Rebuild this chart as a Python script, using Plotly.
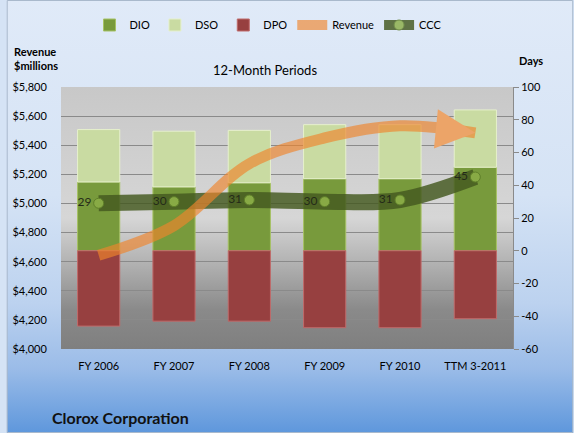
import base64
import plotly.graph_objects as go

# ---- data ----
categories = ["FY 2006", "FY 2007", "FY 2008", "FY 2009", "FY 2010", "TTM 3-2011"]
dio = [42, 39, 41.5, 44, 44, 51]
dso = [32, 34, 32, 33, 33, 35]
dpo = [-46, -43, -43, -47, -47, -41.5]
ccc = [29, 30, 31, 30, 31, 45]
ccc_labels = ["29", "30", "31", "30", "31", "45"]
revenue = [4644, 4847, 5273, 5450, 5534, 5485]
day_ticks = [-60, -40, -20, 0, 20, 40, 60, 80, 100]
day_tick_labels = ["-60", "-40", "-20", "0", "20", "40", "60", "80", "100"]

# ---- geometry ----
W, H = 574, 433
L, R, T, B = 55, 61, 87, 84
PW, PH = W - L - R, H - T - B


def px(x):
    return (x - L) / PW


def py(y):
    return 1 - (y - T) / PH


def grad_uri(stops):
    st = "".join(
        f'<stop offset="{o}" stop-color="{c}"/>' for o, c in stops
    )
    svg = (
        '<svg xmlns="http://www.w3.org/2000/svg" width="100" height="100" '
        'preserveAspectRatio="none" viewBox="0 0 100 100">'
        f'<defs><linearGradient id="g" x1="0" y1="0" x2="0" y2="1">{st}</linearGradient></defs>'
        '<rect x="0" y="0" width="100" height="100" fill="url(#g)"/></svg>'
    )
    return "data:image/svg+xml;base64," + base64.b64encode(svg.encode()).decode()


paper_grad = grad_uri([(0, "#e0eaf8"), (0.45, "#d5e3f5"), (0.7, "#bcd2ef"),
                       (0.85, "#9bbce8"), (1, "#5e97dc")])
plot_grad = grad_uri([(0, "#c8c8c8"), (0.5, "#d6d6d6"), (0.68, "#b0b0b0"),
                      (0.85, "#8a8a8a"), (1, "#7f7f7f")])

FONT = "Lato, 'Open Sans', sans-serif"

fig = go.Figure()

fig.add_trace(go.Bar(
    x=categories, y=dio, name="DIO", yaxis="y", width=0.56,
    marker=dict(color="#789a3c", line=dict(color="#a6c264", width=1)),
    legendrank=1,
))
fig.add_trace(go.Bar(
    x=categories, y=dso, name="DSO", yaxis="y", width=0.56,
    marker=dict(color="#c9dba2", line=dict(color="#e6f0cc", width=1)),
    legendrank=2,
))
fig.add_trace(go.Bar(
    x=categories, y=dpo, name="DPO", yaxis="y", width=0.56,
    marker=dict(color="#974040", line=dict(color="#c06a6a", width=1)),
    legendrank=3,
))
fig.add_trace(go.Scatter(
    x=categories, y=ccc, name="CCC", yaxis="y", mode="lines+markers+text",
    line=dict(color="#44591f", width=16, shape="spline"),
    marker=dict(size=10, color="#8cae48", line=dict(color="#5a7a26", width=1)),
    text=ccc_labels, textposition="middle left",
    textfont=dict(size=12, color="#111111", family=FONT),
    opacity=0.82, legendrank=5,
))
fig.add_trace(go.Scatter(
    x=categories, y=revenue, name="Revenue", yaxis="y2", mode="lines",
    line=dict(color="#f0852c", width=11, shape="spline"),
    opacity=0.65, legendrank=4,
))

fig.update_layout(
    width=W, height=H,
    margin=dict(l=L, r=R, t=T, b=B),
    paper_bgcolor="#d5e3f5",
    plot_bgcolor="rgba(0,0,0,0)",
    barmode="relative",
    font=dict(family=FONT, size=11, color="#000000"),
    showlegend=True,
    legend=dict(orientation="h", xref="container", yref="container",
                x=268 / W, y=1 - 25 / H, xanchor="center",
                yanchor="middle", bgcolor="rgba(0,0,0,0)",
                font=dict(size=11, family=FONT)),
    xaxis=dict(type="category", showgrid=False, ticks="outside", ticklen=7,
               tickcolor="rgba(0,0,0,0)", tickfont=dict(size=11),
               showline=False, zeroline=False),
    yaxis=dict(side="right", range=[-60, 100], tickvals=day_ticks,
               ticktext=day_tick_labels, showgrid=False,
               zeroline=False, ticks="outside", ticklen=5, tickcolor="#8a8a8a",
               showline=True, linecolor="#8a8a8a", tickfont=dict(size=11)),
    yaxis2=dict(side="left", overlaying="y", range=[4000, 5800], dtick=200,
                showgrid=True, gridcolor="#8a8a8a", gridwidth=1,
                zeroline=False, tickprefix="$", tickformat=",",
                ticks="outside", ticklen=11, tickcolor="rgba(0,0,0,0)",
                tickfont=dict(size=11)),
    images=[
        dict(source=paper_grad, xref="paper", yref="paper",
             x=px(0), y=py(0), sizex=W / PW, sizey=H / PH,
             xanchor="left", yanchor="top", sizing="stretch", layer="below"),
        dict(source=plot_grad, xref="paper", yref="paper",
             x=0, y=1, sizex=1, sizey=1,
             xanchor="left", yanchor="top", sizing="stretch", layer="below"),
    ],
    shapes=[
        dict(type="rect", xref="paper", yref="paper",
             x0=px(0.5), x1=px(W - 0.5), y0=py(H - 0.5), y1=py(0.5),
             line=dict(color="#a9b9cc", width=1), fillcolor="rgba(0,0,0,0)",
             layer="above"),
    ],
    annotations=[
        # arrowhead at the end of the revenue line
        dict(x=categories[-1], y=revenue[-1], xref="x", yref="y2",
             text="", showarrow=True, arrowhead=2, arrowsize=0.72,
             arrowwidth=11, arrowcolor="#eca468", ax=-30, ay=-3,
             axref="pixel", ayref="pixel", standoff=0),
        dict(text="12-Month Periods", xref="paper", yref="paper",
             x=px(262), y=py(70), xanchor="center", yanchor="middle",
             showarrow=False, font=dict(size=13, family=FONT)),
        dict(text="<b>Revenue<br>$millions</b>", xref="paper", yref="paper",
             x=px(5), y=py(58), xanchor="left", yanchor="middle",
             align="left", showarrow=False, font=dict(size=11, family=FONT)),
        dict(text="<b>Days</b>", xref="paper", yref="paper",
             x=px(517), y=py(60), xanchor="left", yanchor="middle",
             showarrow=False, font=dict(size=11, family=FONT)),
        dict(text="<b>Clorox Corporation</b>", xref="paper", yref="paper",
             x=px(44), y=py(417), xanchor="left", yanchor="middle",
             showarrow=False, font=dict(size=16, family=FONT, color="#111111")),
    ],
)

fig.write_html(
    "out.html",
    config={"displayModeBar": False},
    post_script="document.body.style.margin='0';document.body.style.padding='0';",
)
